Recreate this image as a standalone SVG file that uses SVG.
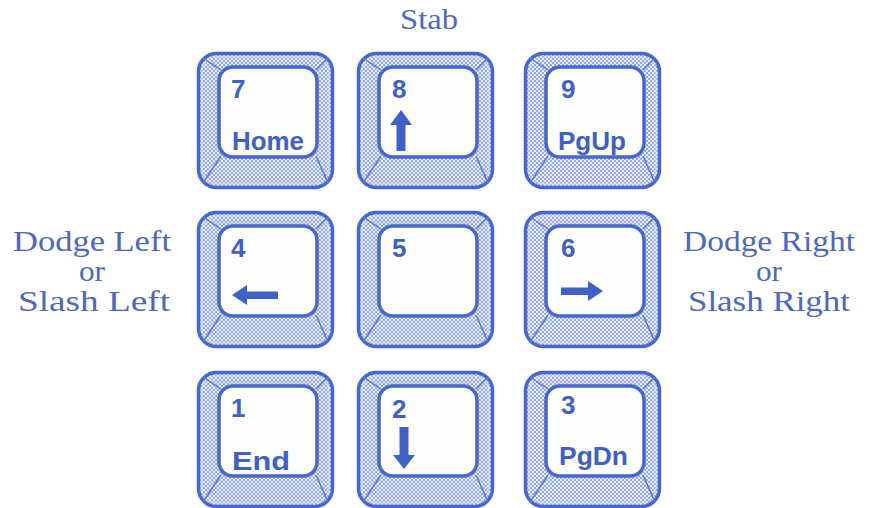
<svg xmlns="http://www.w3.org/2000/svg" xmlns:xlink="http://www.w3.org/1999/xlink" width="881" height="508" viewBox="0 0 881 508">
<defs>
<pattern id="dots" width="4" height="4" patternUnits="userSpaceOnUse">
<rect width="4" height="4" fill="#92a8e8"/>
<circle cx="1" cy="1" r="1.1" fill="#f6f8ff"/>
<circle cx="3" cy="3" r="1.1" fill="#f6f8ff"/>
</pattern>
<g id="keybody">
<rect x="1.5" y="1.5" width="134" height="134" rx="18" fill="url(#dots)" stroke="#4767cf" stroke-width="3.5"/>
<rect x="5" y="5" width="127" height="127" rx="15" fill="none" stroke="#d6def7" stroke-width="1"/>
<path d="M6,6 L24,18 M131,6 L119,18 M6,131 L24,104 M131,131 L119,104" stroke="#5a78d4" stroke-width="1.5" fill="none"/>
<rect x="22" y="15" width="98" height="90" rx="14" fill="#fdfdfb" stroke="#4767cf" stroke-width="3.5"/>
</g>
<style>
.k{font-family:"Liberation Sans",Arial,sans-serif;font-weight:bold;font-size:26px;fill:#3f60c6}
.s{font-family:"Liberation Serif","Times New Roman",serif;font-size:30px;fill:#4d68bd;text-anchor:middle}
.a{fill:#3f60c6}
</style>
</defs>
<rect width="881" height="508" fill="#ffffff"/>
<g id="labels">
<text class="s" x="429" y="29" textLength="58" lengthAdjust="spacingAndGlyphs">Stab</text>
<text class="s" x="92" y="251" textLength="158" lengthAdjust="spacingAndGlyphs">Dodge Left</text>
<text class="s" x="92" y="281" textLength="26" lengthAdjust="spacingAndGlyphs">or</text>
<text class="s" x="94" y="311" textLength="152" lengthAdjust="spacingAndGlyphs">Slash Left</text>
<text class="s" x="769" y="251" textLength="172" lengthAdjust="spacingAndGlyphs">Dodge Right</text>
<text class="s" x="769" y="281" textLength="26" lengthAdjust="spacingAndGlyphs">or</text>
<text class="s" x="769" y="311" textLength="162" lengthAdjust="spacingAndGlyphs">Slash Right</text>
</g>
<g id="key7" transform="translate(197,52)"><use xlink:href="#keybody"/><text class="k" x="34" y="46">7</text><text class="k" x="35" y="98" textLength="72" lengthAdjust="spacingAndGlyphs">Home</text></g>
<g id="key8" transform="translate(357,52)"><use xlink:href="#keybody"/><text class="k" x="35" y="46">8</text><path class="a" d="M44,58 L55,73 L48.5,73 L48.5,99 L39.5,99 L39.5,73 L33,73 Z"/></g>
<g id="key9" transform="translate(524,52)"><use xlink:href="#keybody"/><text class="k" x="37" y="46">9</text><text class="k" x="34" y="98" textLength="68" lengthAdjust="spacingAndGlyphs">PgUp</text></g>
<g id="key4" transform="translate(197,211)"><use xlink:href="#keybody"/><text class="k" x="34" y="46">4</text><path class="a" d="M35,84 L50,74 L50,80.5 L81,80.5 L81,88 L50,88 L50,94 Z"/></g>
<g id="key5" transform="translate(357,211)"><use xlink:href="#keybody"/><text class="k" x="35" y="46">5</text></g>
<g id="key6" transform="translate(524,211)"><use xlink:href="#keybody"/><text class="k" x="37" y="46">6</text><path class="a" d="M79,80 L64,70 L64,76.5 L37,76.5 L37,84 L64,84 L64,90 Z"/></g>
<g id="key1" transform="translate(197,371)"><use xlink:href="#keybody"/><text class="k" x="34" y="46">1</text><text class="k" x="35" y="99" textLength="58" lengthAdjust="spacingAndGlyphs">End</text></g>
<g id="key2" transform="translate(357,371)"><use xlink:href="#keybody"/><text class="k" x="35" y="47">2</text><path class="a" d="M47,98 L58,84 L51.5,84 L51.5,56 L42.5,56 L42.5,84 L36,84 Z"/></g>
<g id="key3" transform="translate(524,371)"><use xlink:href="#keybody"/><text class="k" x="37" y="43">3</text><text class="k" x="35" y="94" textLength="69" lengthAdjust="spacingAndGlyphs">PgDn</text></g>
</svg>
